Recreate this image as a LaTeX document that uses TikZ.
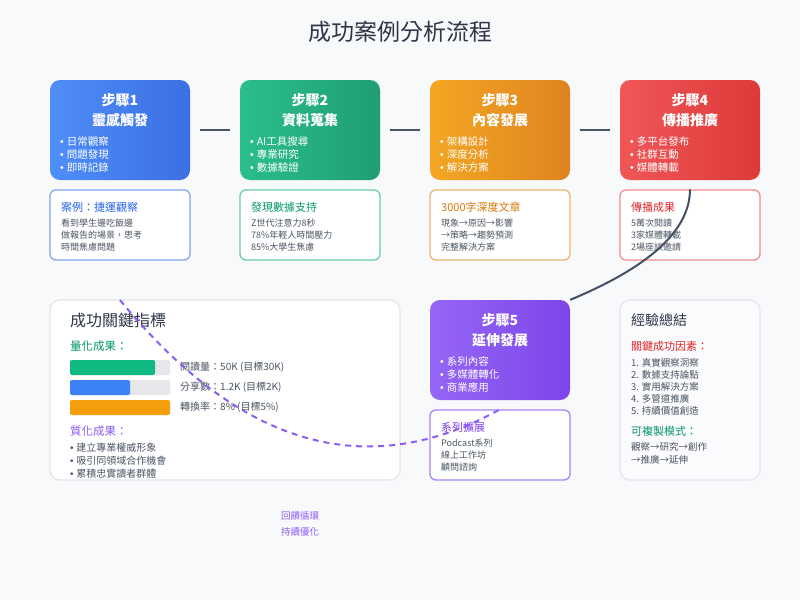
\documentclass[tikz,border=0pt]{standalone}
\usepackage{fontspec}
\setmainfont{Noto Sans CJK TC}
\newfontfamily\bulletfont{Liberation Sans}
\newcommand{\bul}{{\bulletfont •\ }}
\usetikzlibrary{positioning}

\definecolor{pagebg}{HTML}{F8F9FB}
\definecolor{inkdark}{HTML}{2D3748}
\definecolor{inkbody}{HTML}{4B5563}
\definecolor{linkgray}{HTML}{475569}
\definecolor{cardline}{HTML}{E3E6EB}
\definecolor{blueA}{HTML}{4F8EF7}\definecolor{blueB}{HTML}{3B6FE3}
\definecolor{blueC}{HTML}{2563EB}\definecolor{blueL}{HTML}{7EA6F6}
\definecolor{greenA}{HTML}{2BBE8D}\definecolor{greenB}{HTML}{1F9E72}
\definecolor{greenC}{HTML}{059669}\definecolor{greenL}{HTML}{6CCBAA}
\definecolor{orangeA}{HTML}{F4A623}\definecolor{orangeB}{HTML}{DE8420}
\definecolor{orangeC}{HTML}{D97706}\definecolor{orangeL}{HTML}{EDB56F}
\definecolor{redA}{HTML}{EF5757}\definecolor{redB}{HTML}{DD3939}
\definecolor{redC}{HTML}{DC2626}\definecolor{redL}{HTML}{EE8E8E}
\definecolor{purpleA}{HTML}{9566F6}\definecolor{purpleB}{HTML}{7D45E9}
\definecolor{purpleC}{HTML}{7C3AED}\definecolor{purpleL}{HTML}{A883F7}
\definecolor{loopviolet}{HTML}{8B5CF6}
\definecolor{barGreen}{HTML}{10B981}
\definecolor{barBlue}{HTML}{3B82F6}
\definecolor{barOrange}{HTML}{F59E0B}
\definecolor{barTrack}{HTML}{E5E7EB}

\begin{document}
\begin{tikzpicture}[
  x=1pt, y=-1pt,
  stepbox/.style={rounded corners=10pt, minimum width=140pt, minimum height=100pt, inner sep=0pt},
  detailbox/.style={draw, line width=1.3pt, fill=white, rounded corners=6pt, minimum width=140pt, minimum height=70pt, inner sep=0pt},
  card/.style={draw=cardline, line width=1.2pt, rounded corners=10pt, inner sep=0pt},
  steptitle/.style={anchor=north, inner sep=0pt, text=white, align=center, font=\fontsize{14}{20}\selectfont\bfseries},
  stepitems/.style={anchor=north west, inner sep=0pt, text=white, align=left, font=\fontsize{10.5}{13}\selectfont},
  dethead/.style={anchor=west, inner sep=0pt, font=\fontsize{11}{13}\selectfont},
  detbody/.style={anchor=north west, inner sep=0pt, text=inkbody, align=left, font=\fontsize{9}{12}\selectfont},
  metric/.style={anchor=west, inner sep=0pt, text=inkbody, font=\fontsize{10}{12}\selectfont},
  link/.style={draw=linkgray, line width=2pt, shorten >=10pt, shorten <=10pt},
  flowcurve/.style={draw=linkgray!95!black, line width=2pt},
  loopcurve/.style={draw=loopviolet, line width=2pt, dash pattern=on 6pt off 5pt}
]
\useasboundingbox (0,0) rectangle (800,600);
\fill[pagebg] (0,0) rectangle (800,600);

\node[text=inkdark, font=\fontsize{23}{26}\selectfont] (title) at (400,32) {成功案例分析流程};

% steps 1-4
\node[stepbox, left color=blueA, right color=blueB] (st1) at (120,130) {};
\node[stepbox, left color=greenA, right color=greenB] (st2) at (310,130) {};
\node[stepbox, left color=orangeA, right color=orangeB] (st3) at (500,130) {};
\node[stepbox, left color=redA, right color=redB] (st4) at (690,130) {};

\node[steptitle] (st1t) at (120,93) {步驟1\\靈感觸發};
\node[steptitle] (st2t) at (310,93) {步驟2\\資料蒐集};
\node[steptitle] (st3t) at (500,93) {步驟3\\內容發展};
\node[steptitle] (st4t) at (690,93) {步驟4\\傳播推廣};

\node[stepitems] (st1l) at (60,136) {\bul 日常觀察\\\bul 問題發現\\\bul 即時記錄};
\node[stepitems] (st2l) at (250,136) {\bul AI工具搜尋\\\bul 專業研究\\\bul 數據驗證};
\node[stepitems] (st3l) at (440,136) {\bul 架構設計\\\bul 深度分析\\\bul 解決方案};
\node[stepitems] (st4l) at (630,136) {\bul 多平台發布\\\bul 社群互動\\\bul 媒體轉載};

\draw[link] (st1.east) -- (st2.west);
\draw[link] (st2.east) -- (st3.west);
\draw[link] (st3.east) -- (st4.west);

% case details
\node[detailbox, draw=blueL] (det1) at (120,225) {};
\node[detailbox, draw=greenL] (det2) at (310,225) {};
\node[detailbox, draw=orangeL] (det3) at (500,225) {};
\node[detailbox, draw=redL] (det4) at (690,225) {};

\node[dethead, text=blueC] (det1h) at (61,207) {案例：捷運觀察};
\node[dethead, text=greenC] (det2h) at (251,207) {發現數據支持};
\node[dethead, text=orangeC] (det3h) at (441,207) {3000字深度文章};
\node[dethead, text=redC] (det4h) at (631,207) {傳播成果};

\node[detbody] (det1b) at (61,219) {看到學生邊吃飯邊\\做報告的場景，思考\\時間焦慮問題};
\node[detbody] (det2b) at (251,219) {Z世代注意力8秒\\78\%年輕人時間壓力\\85\%大學生焦慮};
\node[detbody] (det3b) at (441,219) {現象→原因→影響\\→策略→趨勢預測\\完整解決方案};
\node[detbody] (det4b) at (631,219) {5萬次閱讀\\3家媒體轉載\\2場座談邀請};

% key metrics
\node[card, fill=white, minimum width=350pt, minimum height=180pt] (mets) at (225,390) {};
\node[anchor=west, inner sep=0pt, text=inkdark, font=\fontsize{16}{18}\selectfont] (metst) at (70,320) {成功關鍵指標};
\node[dethead, text=greenC, font=\fontsize{11.5}{13}\selectfont] (quant) at (70,346) {量化成果：};
\fill[barTrack, rounded corners=2pt] (70,360) rectangle (170,375);
\fill[barGreen, rounded corners=2pt] (70,360) rectangle (155,375);
\fill[barTrack, rounded corners=2pt] (70,380) rectangle (170,395);
\fill[barBlue, rounded corners=2pt] (70,380) rectangle (130,395);
\fill[barOrange, rounded corners=2pt] (70,400) rectangle (170,415);
\node[metric] (m1) at (180,367.5) {閱讀量：50K (目標30K)};
\node[metric] (m2) at (180,387.5) {分享數：1.2K (目標2K)};
\node[metric] (m3) at (180,407.5) {轉換率：8\% (目標5\%)};
\node[dethead, text=loopviolet, font=\fontsize{11.5}{13}\selectfont] (qual) at (70,431) {質化成果：};
\node[detbody, font=\fontsize{10}{13}\selectfont] (quall) at (70,442.5) {\bul 建立專業權威形象\\\bul 吸引同領域合作機會\\\bul 累積忠實讀者群體};

% step 5
\node[stepbox, left color=purpleA, right color=purpleB] (st5) at (500,350) {};
\node[steptitle] (st5t) at (500,313) {步驟5\\延伸發展};
\node[stepitems] (st5l) at (440,356) {\bul 系列內容\\\bul 多媒體轉化\\\bul 商業應用};
\node[detailbox, draw=purpleL] (det5) at (500,445) {};
\node[dethead, text=purpleC] (det5h) at (441,427) {系列擴展};
\node[detbody] (det5b) at (441,439) {Podcast系列\\線上工作坊\\顧問諮詢};

% summary
\node[card, fill=pagebg!60!white, minimum width=140pt, minimum height=180pt] (summ) at (690,390) {};
\node[anchor=west, inner sep=0pt, text=inkdark, font=\fontsize{14}{16}\selectfont] (summt) at (631,320) {經驗總結};
\node[dethead, text=redC] (keyf) at (631,346) {關鍵成功因素：};
\node[detbody, font=\fontsize{9.5}{12}\selectfont] (keyl) at (631,358) {1. 真實觀察洞察\\2. 數據支持論點\\3. 實用解決方案\\4. 多管道推廣\\5. 持續價值創造};
\node[dethead, text=greenC] (patt) at (631,431) {可複製模式：};
\node[detbody, font=\fontsize{9.5}{13}\selectfont] (pattl) at (631,442) {觀察→研究→創作\\→推廣→延伸};

% flow and feedback loop
\coordinate (loopstart) at (120,300);
\draw[flowcurve] (det4.north) .. controls (690,230) and (650,266.7) .. (st5.north east);
\draw[loopcurve] (loopstart) .. controls (240,446.7) and (366.7,483.3) .. (det5.north);
\node[inner sep=0pt, text=loopviolet, align=center, font=\fontsize{9.5}{16}\selectfont] (loopnote) at (300,524) {回饋循環\\持續優化};
\end{tikzpicture}
\end{document}
